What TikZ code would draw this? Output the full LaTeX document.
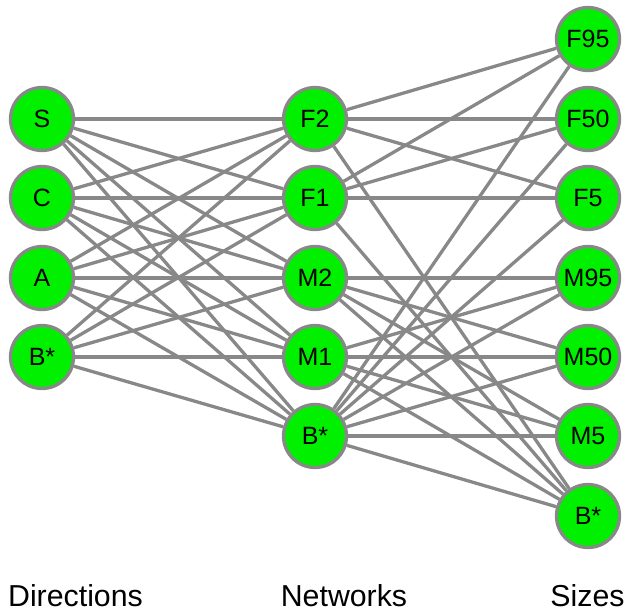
\documentclass[tikz,border=0pt]{standalone}
\usepackage{fontspec}
\setmainfont{Liberation Sans}
\usetikzlibrary{backgrounds}
\definecolor{linkgray}{RGB}{136,136,136}
\definecolor{nodegreen}{RGB}{0,240,0}
\tikzset{
  vertex/.style={circle, draw=linkgray, line width=3.3pt, fill=nodegreen,
    minimum size=63pt, inner sep=0pt, font=\fontsize{25}{30}\selectfont},
  link/.style={draw=linkgray, line width=3.3pt},
  heading/.style={anchor=base, inner sep=0pt, font=\fontsize{30.3}{36}\selectfont}
}
\begin{document}
\begin{tikzpicture}[x=1pt,y=-1pt]
\useasboundingbox (0,0) rectangle (629,611);
% Directions
\node[vertex] (dS) at (42,119) {S};
\node[vertex] (dC) at (42,198) {C};
\node[vertex] (dA) at (42,278) {A};
\node[vertex] (dB) at (42,357) {B*};
% Networks
\node[vertex] (nF2) at (315,119) {F2};
\node[vertex] (nF1) at (315,198) {F1};
\node[vertex] (nM2) at (315,278) {M2};
\node[vertex] (nM1) at (315,357) {M1};
\node[vertex] (nB)  at (315,436) {B*};
% Sizes
\node[vertex] (sF95) at (588,39)  {F95};
\node[vertex] (sF50) at (588,119) {F50};
\node[vertex] (sF5)  at (588,198) {F5};
\node[vertex] (sM95) at (588,278) {M95};
\node[vertex] (sM50) at (588,357) {M50};
\node[vertex] (sM5)  at (588,436) {M5};
\node[vertex] (sB)   at (588,516) {B*};
% Column headings
\node[heading] (hD) at (75.5,606) {Directions};
\node[heading] (hN) at (344,606) {Networks};
\node[heading] (hS) at (587.5,606) {Sizes};
\begin{scope}[on background layer]
  % every direction links to every network
  \foreach \d in {dS,dC,dA,dB}
    \foreach \n in {nF2,nF1,nM2,nM1,nB}
      \draw[link] (\d) -- (\n);
  % female networks to female sizes and B*
  \foreach \n in {nF2,nF1}
    \foreach \s in {sF95,sF50,sF5,sB}
      \draw[link] (\n) -- (\s);
  % male networks to male sizes and B*
  \foreach \n in {nM2,nM1}
    \foreach \s in {sM95,sM50,sM5,sB}
      \draw[link] (\n) -- (\s);
  % the B* network links to every size
  \foreach \s in {sF95,sF50,sF5,sM95,sM50,sM5,sB}
    \draw[link] (nB) -- (\s);
\end{scope}
\end{tikzpicture}
\end{document}
